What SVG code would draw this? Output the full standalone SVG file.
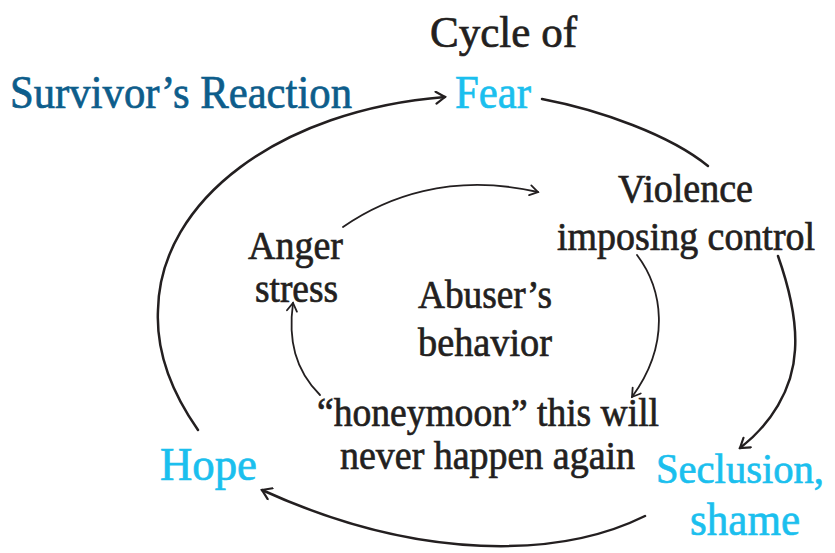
<svg xmlns="http://www.w3.org/2000/svg" width="835" height="553" viewBox="0 0 835 553">
  <style>
    text { font-family: "Liberation Serif", "Times New Roman", serif; stroke-width: 0.7; }
    .blk { fill: #231f20; stroke: #231f20; font-size: 41px; }
    .title { fill: #231f20; stroke: #231f20; font-size: 44px; }
    .teal { fill: #0d5d8b; stroke: #0d5d8b; font-size: 46px; }
    .cyan { fill: #1bbfee; stroke: #1bbfee; font-size: 46px; }
    .outer { fill: none; stroke: #231f20; stroke-width: 2.5; stroke-linecap: round; }
    .inner { fill: none; stroke: #231f20; stroke-width: 1.8; stroke-linecap: round; }
  </style>
  <defs>
    <marker id="arrowO" viewBox="-11 -7 13 14" markerWidth="13" markerHeight="14" refX="0" refY="0" orient="auto" markerUnits="userSpaceOnUse">
      <path d="M-9,-6 L0,0 L-9,6" fill="none" stroke="#231f20" stroke-width="2.2" stroke-linecap="round" stroke-linejoin="miter"/>
    </marker>
    <marker id="arrowI" viewBox="-10 -6 12 12" markerWidth="12" markerHeight="12" refX="0" refY="0" orient="auto" markerUnits="userSpaceOnUse">
      <path d="M-8,-5 L0,0 L-8,5" fill="none" stroke="#231f20" stroke-width="1.8" stroke-linecap="round"/>
    </marker>
  </defs>

  <g id="connectors">
    <path class="outer" d="M198,430 C170,390 156,350 158,310 C160,200 280,110 445,97" marker-end="url(#arrowO)"/>
    <path class="outer" d="M542,99 C600,110 670,135 708,166"/>
    <path class="outer" d="M778,256 C790,290 797,320 795,350 C793,390 770,425 740,448" marker-end="url(#arrowO)"/>
    <path class="outer" d="M645,516 C560,558 420,562 262,490" marker-end="url(#arrowO)"/>
    <path class="inner" d="M343,227 C385,198 450,172 538,192" marker-end="url(#arrowI)"/>
    <path class="inner" d="M637,255 C662,288 672,342 632,397" marker-end="url(#arrowI)"/>
    <path class="inner" d="M320,395 C295,370 288,340 293,303" marker-end="url(#arrowI)"/>
  </g>

  <g id="title">
    <text class="title" x="430" y="47" textLength="147" lengthAdjust="spacingAndGlyphs">Cycle of</text>
  </g>
  <g id="survivor-reaction">
    <text class="teal" x="10" y="108" textLength="342" lengthAdjust="spacingAndGlyphs">Survivor’s Reaction</text>
  </g>
  <g id="fear">
    <text class="cyan" x="455" y="108" textLength="76" lengthAdjust="spacingAndGlyphs">Fear</text>
  </g>
  <g id="violence">
    <text class="blk" x="618" y="202" textLength="135" lengthAdjust="spacingAndGlyphs">Violence</text>
    <text class="blk" x="557" y="250" textLength="258" lengthAdjust="spacingAndGlyphs">imposing control</text>
  </g>
  <g id="anger">
    <text class="blk" x="248" y="259" textLength="95" lengthAdjust="spacingAndGlyphs">Anger</text>
    <text class="blk" x="255" y="302" textLength="83" lengthAdjust="spacingAndGlyphs">stress</text>
  </g>
  <g id="abuser">
    <text class="blk" x="418" y="308" textLength="134" lengthAdjust="spacingAndGlyphs">Abuser’s</text>
    <text class="blk" x="418" y="356" textLength="134" lengthAdjust="spacingAndGlyphs">behavior</text>
  </g>
  <g id="honeymoon">
    <text class="blk" x="317" y="426" textLength="342" lengthAdjust="spacingAndGlyphs">“honeymoon” this will</text>
    <text class="blk" x="340" y="469" textLength="295" lengthAdjust="spacingAndGlyphs">never happen again</text>
  </g>
  <g id="hope">
    <text class="cyan" x="160" y="480" textLength="97" lengthAdjust="spacingAndGlyphs">Hope</text>
  </g>
  <g id="seclusion">
    <text class="cyan" x="656" y="483" style="font-size:42px" textLength="168" lengthAdjust="spacingAndGlyphs">Seclusion,</text>
    <text class="cyan" x="690" y="535" textLength="110" lengthAdjust="spacingAndGlyphs">shame</text>
  </g>
</svg>
